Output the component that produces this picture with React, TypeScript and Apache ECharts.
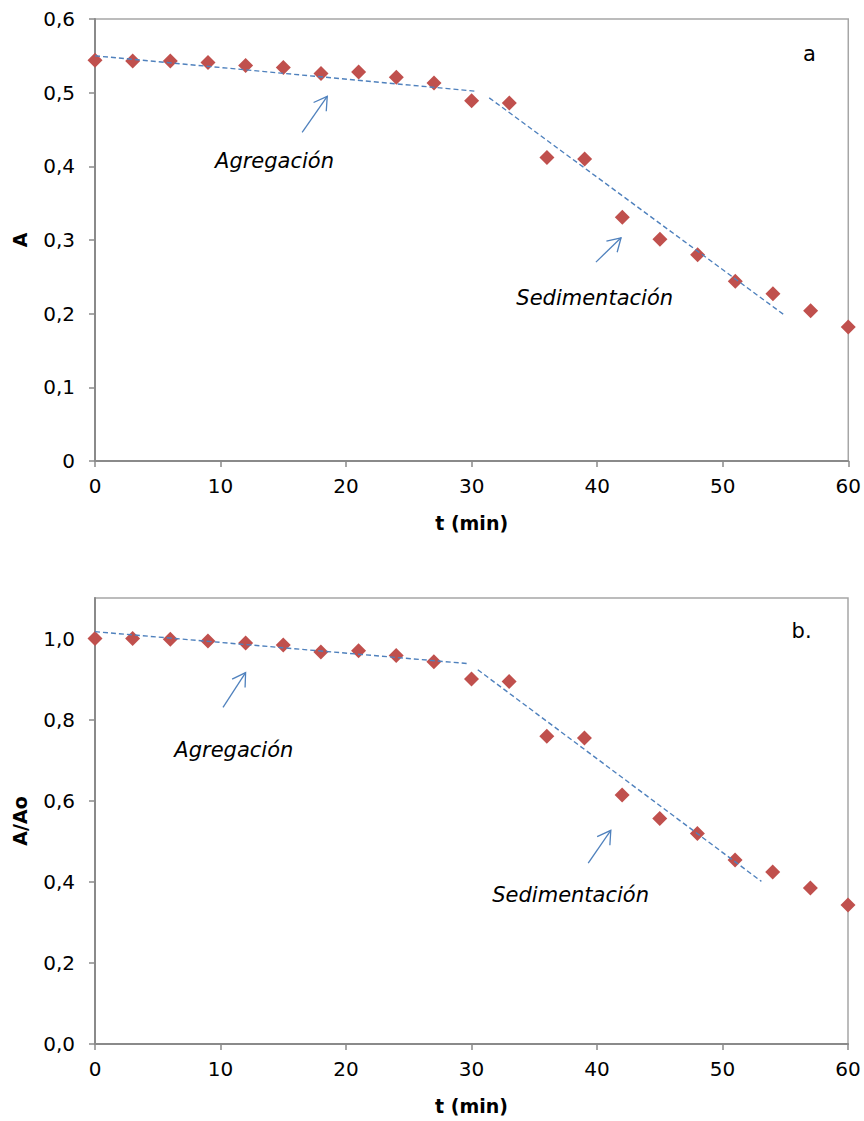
import React, { useEffect, useRef } from 'react';
import * as echarts from 'echarts';

const times = [0, 3, 6, 9, 12, 15, 18, 21, 24, 27, 30, 33, 36, 39, 42, 45, 48, 51, 54, 57, 60];
const absorbance = [0.544, 0.543, 0.543, 0.541, 0.537, 0.534, 0.526, 0.528, 0.521, 0.513, 0.489, 0.486, 0.412, 0.410, 0.331, 0.301, 0.280, 0.244, 0.227, 0.204, 0.182];
const relative = [1.000, 1.000, 0.998, 0.994, 0.989, 0.984, 0.967, 0.970, 0.958, 0.943, 0.900, 0.894, 0.759, 0.755, 0.614, 0.556, 0.519, 0.454, 0.424, 0.385, 0.343];

const trendA1 = [[0, 0.55], [30.3, 0.502]];
const trendA2 = [[31.4, 0.493], [55.0, 0.197]];
const trendB1 = [[0, 1.017], [29.8, 0.938]];
const trendB2 = [[30.5, 0.923], [53.1, 0.401]];

const arrowsA = [[16.5, 0.446, 18.5, 0.495], [39.9, 0.270, 41.9, 0.303]];
const arrowsB = [[10.2, 0.830, 12.0, 0.916], [39.3, 0.446, 41.1, 0.527]];

const labelsA = [[14.3, 0.407], [39.8, 0.221]];
const labelsB = [[11.06, 0.726], [37.9, 0.367]];
const labelTexts = ['Agregación', 'Sedimentación'];
const panelA = [[56.9, 0.553]];
const panelB = [[56.3, 1.019]];
const panelTexts = [['a'], ['b.']];

const bottomYTicks = [0, 0.2, 0.4, 0.6, 0.8, 1.0];

const FONT = 'DejaVu Sans';
const AXIS_COLOR = '#8a8a8a';
const RED = '#c0504d';
const BLUE = '#4f81bd';

export default function App() {
  const ref = useRef<HTMLDivElement>(null);
  useEffect(() => {
    if (!ref.current) return;
    const chart = echarts.init(ref.current, undefined, { renderer: 'svg' });

    const xAxisBase = (gridIndex: number) => ({
      type: 'value',
      gridIndex,
      min: 0,
      max: 60,
      interval: 10,
      name: 't (min)',
      nameLocation: 'middle',
      nameGap: 52,
      nameTextStyle: { fontFamily: FONT, fontSize: 19, fontWeight: 'bold', color: '#000' },
      axisLine: { show: true, lineStyle: { color: AXIS_COLOR, width: 2 } },
      axisTick: { show: true, inside: false, length: 6, lineStyle: { color: AXIS_COLOR, width: 1.5 } },
      axisLabel: { fontFamily: FONT, fontSize: 20, color: '#000', margin: 15 },
      splitLine: { show: false },
    });

    const arrowRender = (params: any, api: any) => {
      const p1 = api.coord([api.value(0), api.value(1)]);
      const p2 = api.coord([api.value(2), api.value(3)]);
      const ang = Math.atan2(p2[1] - p1[1], p2[0] - p1[0]);
      const L = 15;
      const a = 0.54;
      const h1 = [p2[0] - L * Math.cos(ang - a), p2[1] - L * Math.sin(ang - a)];
      const h2 = [p2[0] - L * Math.cos(ang + a), p2[1] - L * Math.sin(ang + a)];
      return {
        type: 'group',
        children: [
          { type: 'line', shape: { x1: p1[0], y1: p1[1], x2: p2[0], y2: p2[1] }, style: { stroke: BLUE, lineWidth: 1.3 } },
          { type: 'polyline', shape: { points: [h1, p2, h2] }, style: { stroke: BLUE, fill: null, lineWidth: 1.3 } },
        ],
      };
    };

    const textRender = (texts: string[], size: number, italic: boolean) => (params: any, api: any) => {
      const p = api.coord([api.value(0), api.value(1)]);
      return {
        type: 'text',
        x: p[0],
        y: p[1],
        style: {
          text: texts[params.dataIndex],
          fontFamily: FONT,
          fontSize: size,
          fontStyle: italic ? 'italic' : 'normal',
          fill: '#000',
          textAlign: 'center',
          textVerticalAlign: 'middle',
        },
      };
    };

    const trendStyle = { color: BLUE, width: 1.4, type: [5, 3] as any };

    chart.setOption({
      animation: false,
      backgroundColor: '#fff',
      grid: [
        { left: 95, top: 19, width: 754, height: 442, show: true, borderColor: '#a6a6a6', borderWidth: 1.5, backgroundColor: 'transparent' },
        { left: 95, top: 598, width: 753, height: 446, show: true, borderColor: '#a6a6a6', borderWidth: 1.5, backgroundColor: 'transparent' },
      ],
      xAxis: [xAxisBase(0), xAxisBase(1)],
      yAxis: [
        {
          type: 'value',
          gridIndex: 0,
          min: 0,
          max: 0.6,
          interval: 0.1,
          name: 'A',
          nameLocation: 'middle',
          nameGap: 66,
          nameTextStyle: { fontFamily: FONT, fontSize: 19, fontWeight: 'bold', color: '#000' },
          axisLine: { show: true, lineStyle: { color: AXIS_COLOR, width: 2 } },
          axisTick: { show: true, inside: false, length: 6, lineStyle: { color: AXIS_COLOR, width: 1.5 } },
          axisLabel: {
            fontFamily: FONT, fontSize: 20, color: '#000', margin: 20,
            formatter: (v: number) => (v === 0 ? '0' : v.toFixed(1).replace('.', ',')),
          },
          splitLine: { show: false },
        },
        {
          type: 'value',
          gridIndex: 1,
          min: 0,
          max: 1.1,
          name: 'A/Ao',
          nameLocation: 'middle',
          nameGap: 66,
          nameTextStyle: { fontFamily: FONT, fontSize: 19, fontWeight: 'bold', color: '#000' },
          axisLine: { show: true, lineStyle: { color: AXIS_COLOR, width: 2 } },
          axisTick: { show: true, inside: false, length: 6, customValues: bottomYTicks, lineStyle: { color: AXIS_COLOR, width: 1.5 } },
          axisLabel: {
            fontFamily: FONT, fontSize: 20, color: '#000', margin: 20, customValues: bottomYTicks,
            formatter: (v: number) => v.toFixed(1).replace('.', ','),
          },
          splitLine: { show: false },
        },
      ],
      series: [
        {
          type: 'scatter', xAxisIndex: 0, yAxisIndex: 0, symbol: 'diamond', symbolSize: 15,
          itemStyle: { color: RED, opacity: 1 }, data: times.map((t, i) => [t, absorbance[i]]), z: 2,
        },
        {
          type: 'scatter', xAxisIndex: 1, yAxisIndex: 1, symbol: 'diamond', symbolSize: 15,
          itemStyle: { color: RED, opacity: 1 }, data: times.map((t, i) => [t, relative[i]]), z: 2,
        },
        { type: 'line', xAxisIndex: 0, yAxisIndex: 0, data: trendA1, showSymbol: false, symbol: 'none', lineStyle: trendStyle, z: 3 },
        { type: 'line', xAxisIndex: 0, yAxisIndex: 0, data: trendA2, showSymbol: false, symbol: 'none', lineStyle: trendStyle, z: 3 },
        { type: 'line', xAxisIndex: 1, yAxisIndex: 1, data: trendB1, showSymbol: false, symbol: 'none', lineStyle: trendStyle, z: 3 },
        { type: 'line', xAxisIndex: 1, yAxisIndex: 1, data: trendB2, showSymbol: false, symbol: 'none', lineStyle: trendStyle, z: 3 },
        { type: 'custom', xAxisIndex: 0, yAxisIndex: 0, data: arrowsA, renderItem: arrowRender, clip: false, z: 4 },
        { type: 'custom', xAxisIndex: 1, yAxisIndex: 1, data: arrowsB, renderItem: arrowRender, clip: false, z: 4 },
        { type: 'custom', xAxisIndex: 0, yAxisIndex: 0, data: labelsA, renderItem: textRender(labelTexts, 21, true), clip: false, z: 4 },
        { type: 'custom', xAxisIndex: 1, yAxisIndex: 1, data: labelsB, renderItem: textRender(labelTexts, 21, true), clip: false, z: 4 },
        { type: 'custom', xAxisIndex: 0, yAxisIndex: 0, data: panelA, renderItem: textRender(panelTexts[0], 21, false), clip: false, z: 4 },
        { type: 'custom', xAxisIndex: 1, yAxisIndex: 1, data: panelB, renderItem: textRender(panelTexts[1], 21, false), clip: false, z: 4 },
      ],
    });
    return () => chart.dispose();
  }, []);

  return <div ref={ref} style={{ position: 'absolute', left: 0, top: 0, width: 864, height: 1121 }} />;
}
